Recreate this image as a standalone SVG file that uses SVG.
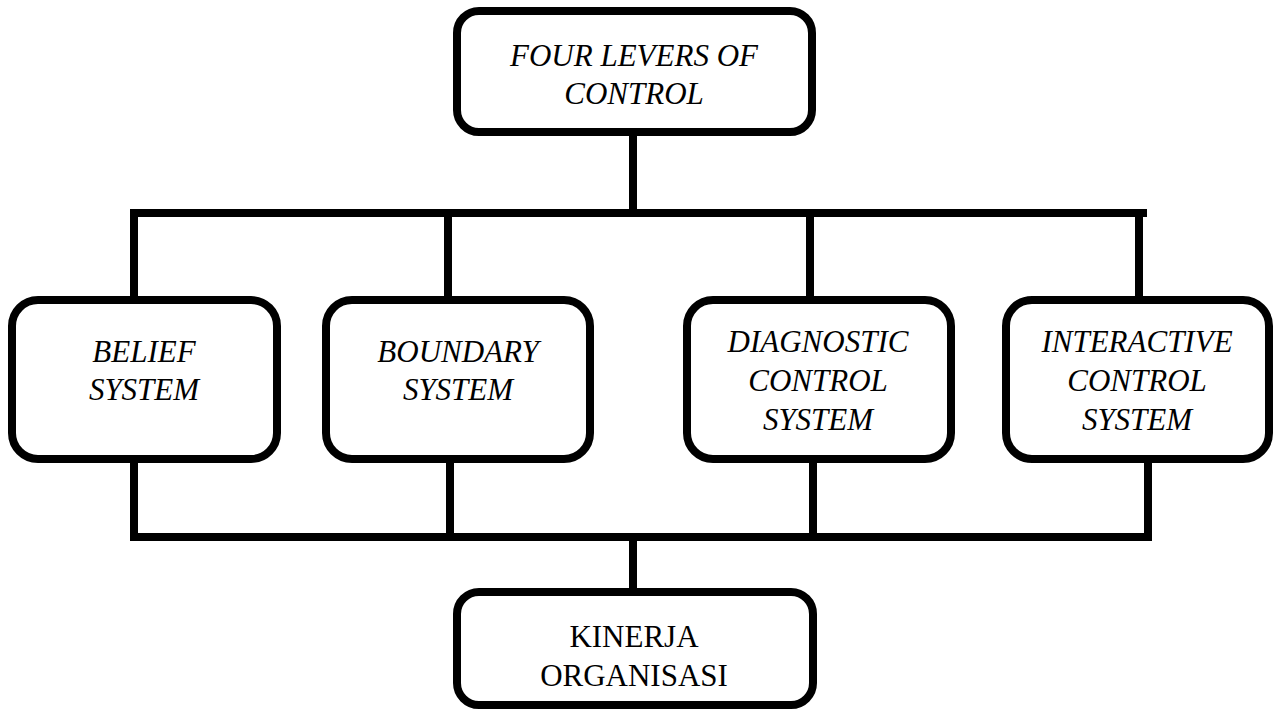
<svg xmlns="http://www.w3.org/2000/svg" width="1278" height="713" viewBox="0 0 1278 713">
<style>
.box{fill:#fff;stroke:#000;stroke-width:8}
.ln{fill:none;stroke:#000;stroke-width:8;stroke-linecap:square}
.t{font-family:"Liberation Serif","Times New Roman",serif;font-size:31px;font-style:italic;fill:#000;text-anchor:middle}
.n{font-style:normal}
</style>
<g id="connectors">
<path class="ln" d="M633 135V213"/>
<path class="ln" d="M134 213H1143"/>
<path class="ln" d="M134 213V296M448 213V296M810 213V296M1139 213V296"/>
<path class="ln" d="M134 463V537M450 463V537M813 463V537M1148 463V537"/>
<path class="ln" d="M134 537H1148"/>
<path class="ln" d="M633 537V588"/>
</g>
<g id="top">
<rect class="box" x="457" y="11" width="355" height="121" rx="22"/>
<text class="t" x="634" y="66">FOUR LEVERS OF</text>
<text class="t" x="634" y="104">CONTROL</text>
</g>
<g id="belief">
<rect class="box" x="12" y="300" width="265" height="159" rx="26"/>
<text class="t" x="144" y="362">BELIEF</text>
<text class="t" x="144" y="400">SYSTEM</text>
</g>
<g id="boundary">
<rect class="box" x="326" y="300" width="264" height="159" rx="26"/>
<text class="t" x="458" y="362">BOUNDARY</text>
<text class="t" x="458" y="400">SYSTEM</text>
</g>
<g id="diagnostic">
<rect class="box" x="687" y="300" width="264" height="159" rx="26"/>
<text class="t" x="818" y="352">DIAGNOSTIC</text>
<text class="t" x="818" y="391">CONTROL</text>
<text class="t" x="818" y="430">SYSTEM</text>
</g>
<g id="interactive">
<rect class="box" x="1006" y="300" width="263" height="159" rx="26"/>
<text class="t" x="1137" y="352">INTERACTIVE</text>
<text class="t" x="1137" y="391">CONTROL</text>
<text class="t" x="1137" y="430">SYSTEM</text>
</g>
<g id="kinerja">
<rect class="box" x="457" y="592" width="356" height="113" rx="22"/>
<text class="t n" x="634" y="647">KINERJA</text>
<text class="t n" x="634" y="686">ORGANISASI</text>
</g>
</svg>
